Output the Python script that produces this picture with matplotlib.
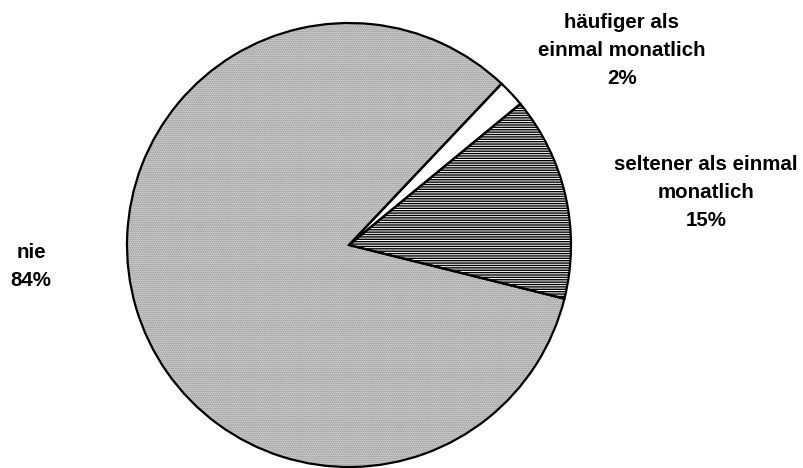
import matplotlib
matplotlib.use("Agg")
import matplotlib.pyplot as plt

# Survey answer shares (percent)
categories = ["seltener als einmal\nmonatlich", "häufiger als\neinmal monatlich", "nie"]
values = [15, 2, 84]
label_texts = ["seltener als einmal\nmonatlich\n15%", "häufiger als\neinmal monatlich\n2%", "nie\n84%"]

plt.rcParams["font.family"] = ["Liberation Sans", "DejaVu Sans"]
plt.rcParams["hatch.linewidth"] = 1.0

fig = plt.figure(figsize=(8.04, 4.68), dpi=100)
ax = fig.add_axes([0, 0, 1, 1])

center = (349, 223)
radius = 222

# Filled, hatched wedges (hatch drawn in the edge colour, no outline)
wedges, _ = ax.pie(values, startangle=-14, counterclock=True, center=center,
                   radius=radius, wedgeprops=dict(linewidth=0))
styles = [
    dict(facecolor="white", edgecolor="black", hatch="-------"),
    dict(facecolor="white", edgecolor="white", hatch=None),
    dict(facecolor="#eeeeee", edgecolor="#7a7a7a", hatch="........"),
]
for w, st in zip(wedges, styles):
    w.set_facecolor(st["facecolor"])
    w.set_edgecolor(st["edgecolor"])
    if st["hatch"]:
        w.set_hatch(st["hatch"])

# Black outlines on top
outlines, _ = ax.pie(values, startangle=-14, counterclock=True, center=center,
                     radius=radius,
                     wedgeprops=dict(facecolor="none", edgecolor="black", linewidth=1.6))

ax.set_xlim(0, 804)
ax.set_ylim(0, 468)
ax.set_aspect("equal")
ax.axis("off")

label_pos = [(706, 276), (622, 418), (31, 201)]
for txt, (x, y) in zip(label_texts, label_pos):
    ax.text(x, y, txt, ha="center", va="center", fontsize=14.8,
            fontweight="bold", linespacing=1.6)

fig.savefig("out.png", dpi=100)
